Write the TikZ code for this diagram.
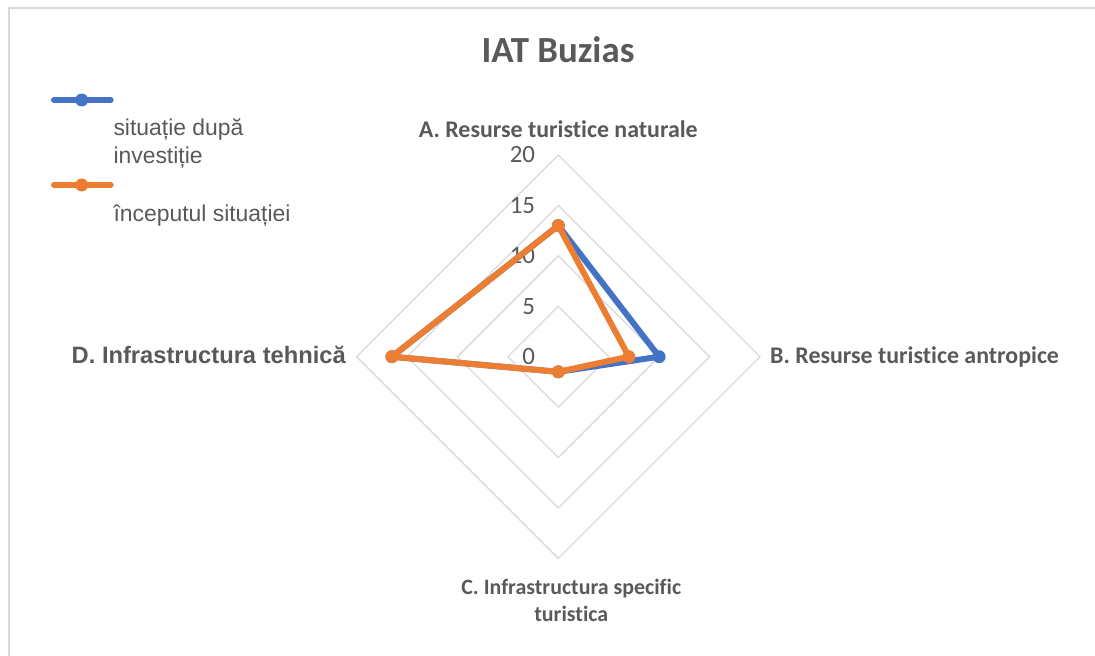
\documentclass[tikz,border=0pt]{standalone}
\usepackage{fontspec}
\setmainfont{Carlito}[Ligatures=NoCommon]
\newfontfamily\arialfont{Liberation Sans}

\definecolor{serieblue}{HTML}{4472C4}
\definecolor{serieorange}{HTML}{ED7D31}
\definecolor{gridgray}{HTML}{D9D9D9}
\definecolor{textgray}{HTML}{595959}

\tikzset{
  grila/.style={draw=gridgray, line width=1.3},
  serie/.style={line width=6, line join=round},
  punct/.style={circle, inner sep=0pt, minimum size=13},
  eticheta/.style={text=textgray, font=\bfseries\fontsize{24}{27}\selectfont},
  valoare/.style={text=textgray, font=\fontsize{25}{27}\selectfont},
  legenda/.style={text=textgray, font=\arialfont\fontsize{23}{27.7}\selectfont, align=left},
}

\begin{document}
\begin{tikzpicture}[x=1bp, y=-1bp]
    \useasboundingbox (0,0) rectangle (1095,656);

    % Cadrul graficului
    \draw[gridgray, line width=1.5] (9,700) -- (9,8) -- (1120,8);

    % Titlu
    \node[text=textgray, font=\bfseries\fontsize{37}{40}\selectfont, anchor=base] (titlu) at (558,62.7) {IAT Buzias};

    % Legenda
    \draw[serie, serieblue, line cap=round] (54,100) -- (110.7,100);
    \node[punct, fill=serieblue] (legA) at (81.7,100) {};
    \node[legenda, anchor=base west, inner sep=0pt] (textA) at (113.3,163.3) {situație după\\investiție};
    \draw[serie, serieorange, line cap=round] (54,185) -- (110.7,185);
    \node[punct, fill=serieorange] (legB) at (81.7,185) {};
    \node[legenda, anchor=base west, inner sep=0pt] (textB) at (113.3,221) {începutul situației};

    \begin{scope}[shift={(558.3,356.7)}]
      % Grila radar
      \foreach \v in {5,10,15,20}
        \draw[grila] (0,-\v*10.085) -- (\v*10.085,0) -- (0,\v*10.085) -- (-\v*10.085,0) -- cycle;

      % Valori pe axa
      \foreach \v in {0,5,10,15,20}
        \node[valoare, anchor=east, inner sep=0pt] (v\v) at (-23,-\v*10.085) {\v};

      % Etichetele axelor
      \node[eticheta, anchor=base] (axaA) at (0,-219) {A. Resurse turistice naturale};
      \node[eticheta, anchor=base west, inner sep=0pt] (axaB) at (211.7,6.6) {B. Resurse turistice antropice};
      \node[eticheta, font=\bfseries\fontsize{22}{27}\selectfont, anchor=base, align=center] (axaC) at (13,264.3) {C. Infrastructura specific\\turistica};
      \node[text=textgray, font=\arialfont\bfseries\fontsize{23.8}{28}\selectfont, anchor=base east, inner sep=0pt] (axaD) at (-212.3,6.6) {D. Infrastructura tehnică};

      % Situatie dupa investitie
      \coordinate (bA) at (0,-13*10.085);
      \coordinate (bB) at (10*10.085,0);
      \coordinate (bC) at (0,1.5*10.085);
      \coordinate (bD) at (-16.5*10.085,0);
      \draw[serie, serieblue] (bA) -- (bB) -- (bC) -- (bD) -- cycle;
      \foreach \p in {bA,bB,bC,bD}
        \node[punct, fill=serieblue] at (\p) {};

      % Inceputul situatiei
      \coordinate (oA) at (0,-13*10.085);
      \coordinate (oB) at (7*10.085,0);
      \coordinate (oC) at (0,1.5*10.085);
      \coordinate (oD) at (-16.5*10.085,0);
      \draw[serie, serieorange] (oA) -- (oB) -- (oC) -- (oD) -- cycle;
      \foreach \p in {oA,oB,oC,oD}
        \node[punct, fill=serieorange] at (\p) {};
    \end{scope}
\end{tikzpicture}
\end{document}
